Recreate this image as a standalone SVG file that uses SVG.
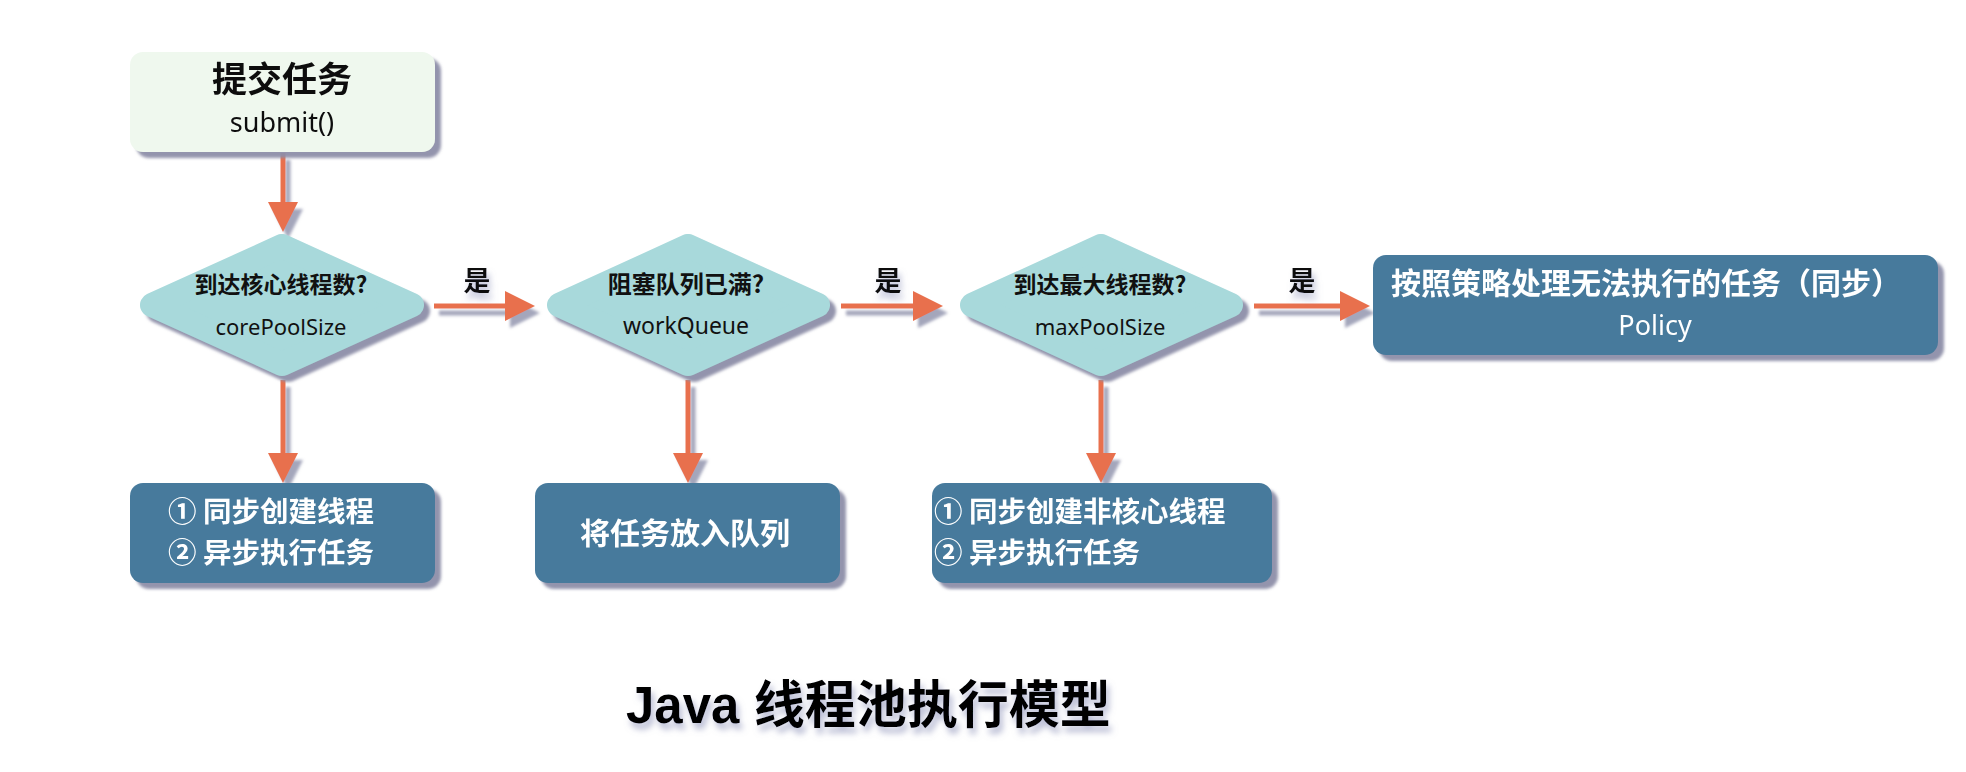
<svg xmlns="http://www.w3.org/2000/svg" width="1966" height="772" viewBox="0 0 1966 772">
  <defs>
    <filter id="sh" x="-10%" y="-20%" width="130%" height="150%">
      <feDropShadow dx="6" dy="6" stdDeviation="1.8" flood-color="#8d8fa8" flood-opacity="0.95"/>
    </filter>
    <filter id="ash" x="-20%" y="-50%" width="150%" height="200%">
      <feDropShadow dx="5" dy="7" stdDeviation="1.5" flood-color="#9a9cb4" flood-opacity="0.9"/>
    </filter>
    <filter id="tsh" x="-20%" y="-30%" width="140%" height="170%">
      <feDropShadow dx="3" dy="6" stdDeviation="3" flood-color="#7f86b0" flood-opacity="0.55"/>
    </filter>
    <style>
      .start { fill: #eff8ee; }
      .dia { fill: #a8d9db; stroke: #a8d9db; stroke-width: 24; stroke-linejoin: round; }
      .act { fill: #467a9c; }
      .cjk { font-family: "Noto Sans CJK SC", "Noto Sans", sans-serif; font-weight: 700; }
      .lat { font-family: "Noto Sans", "DejaVu Sans", sans-serif; font-weight: 400; }
      .dark { fill: #111111; }
      .white { fill: #ffffff; }
      .arr { fill: #e8704e; stroke: none; }
      .line { stroke: #e8704e; stroke-width: 5; fill: none; }
    </style>
  </defs>
  <rect width="1966" height="772" fill="#ffffff"/>

  <g id="connectors" filter="url(#ash)">
    <!-- submit -> diamond1 -->
    <line class="line" x1="283" y1="153" x2="283" y2="210"/>
    <polygon class="arr" points="268,202 298,202 283,232"/>
    <!-- diamond1 -> box A -->
    <line class="line" x1="283" y1="380" x2="283" y2="460"/>
    <polygon class="arr" points="268,453 298,453 283,483"/>
    <!-- diamond2 -> box B -->
    <line class="line" x1="688" y1="380" x2="688" y2="460"/>
    <polygon class="arr" points="673,453 703,453 688,483"/>
    <!-- diamond3 -> box C -->
    <line class="line" x1="1101" y1="380" x2="1101" y2="460"/>
    <polygon class="arr" points="1086,453 1116,453 1101,483"/>
    <!-- diamond1 -> diamond2 -->
    <line class="line" x1="434" y1="306" x2="512" y2="306"/>
    <polygon class="arr" points="505,291 535,306 505,321"/>
    <!-- diamond2 -> diamond3 -->
    <line class="line" x1="841" y1="306" x2="920" y2="306"/>
    <polygon class="arr" points="913,291 943,306 913,321"/>
    <!-- diamond3 -> policy -->
    <line class="line" x1="1254" y1="306" x2="1347" y2="306"/>
    <polygon class="arr" points="1340,291 1370,306 1340,321"/>
  </g>
  <g id="yes-labels" class="cjk dark" font-size="27" text-anchor="middle" filter="url(#tsh)">
    <text x="477" y="291">是</text>
    <text x="888" y="291">是</text>
    <text x="1302" y="291">是</text>
  </g>

  <g id="submit" filter="url(#sh)">
    <rect class="start" x="130" y="52" width="305" height="100" rx="13"/>
    <text class="cjk dark" x="282" y="92" font-size="35" text-anchor="middle">提交任务</text>
    <text class="lat dark" x="282" y="132" font-size="27" text-anchor="middle">submit()</text>
  </g>

  <g id="core-check">
    <polygon class="dia" filter="url(#sh)" points="152,305 282,246 412,305 282,364"/>
    <text class="cjk dark" x="281" y="293" font-size="23" text-anchor="middle">到达核心线程数?</text>
    <text class="lat dark" x="281" y="335" font-size="22" text-anchor="middle">corePoolSize</text>
  </g>

  <g id="queue-check">
    <polygon class="dia" filter="url(#sh)" points="559,305 688,246 818,305 688,364"/>
    <text class="cjk dark" x="686" y="293" font-size="24" text-anchor="middle">阻塞队列已满?</text>
    <text class="lat dark" x="686" y="334" font-size="23" text-anchor="middle">workQueue</text>
  </g>

  <g id="max-check">
    <polygon class="dia" filter="url(#sh)" points="972,305 1101,246 1231,305 1101,364"/>
    <text class="cjk dark" x="1100" y="293" font-size="23" text-anchor="middle">到达最大线程数?</text>
    <text class="lat dark" x="1100" y="335" font-size="22" text-anchor="middle">maxPoolSize</text>
  </g>

  <g id="policy" filter="url(#sh)">
    <rect class="act" x="1373" y="255" width="565" height="100" rx="13"/>
    <text class="cjk white" x="1646" y="294" font-size="30" text-anchor="middle">按照策略处理无法执行的任务（同步）</text>
    <text class="lat white" x="1655" y="335" font-size="27" text-anchor="middle">Policy</text>
  </g>

  <g id="create-core" filter="url(#sh)">
    <rect class="act" x="130" y="483" width="305" height="100" rx="13"/>
    <text class="cjk white" font-size="28.5"><tspan x="168" y="521.5">① 同步创建线程</tspan><tspan x="168" y="563">② 异步执行任务</tspan></text>
  </g>

  <g id="enqueue" filter="url(#sh)">
    <rect class="act" x="535" y="483" width="305" height="100" rx="13"/>
    <text class="cjk white" x="685" y="544" font-size="30" text-anchor="middle">将任务放入队列</text>
  </g>

  <g id="create-noncore" filter="url(#sh)">
    <rect class="act" x="932" y="483" width="340" height="100" rx="13"/>
    <text class="cjk white" font-size="28.5"><tspan x="934" y="521.5">① 同步创建非核心线程</tspan><tspan x="934" y="563">② 异步执行任务</tspan></text>
  </g>

  <g id="title" filter="url(#tsh)">
    <text x="626" y="723" font-size="51" font-weight="700" fill="#000000" font-family="Liberation Sans, Noto Sans CJK SC, sans-serif">Java <tspan font-family="Noto Sans CJK SC, sans-serif">线程池执行模型</tspan></text>
  </g>
</svg>
